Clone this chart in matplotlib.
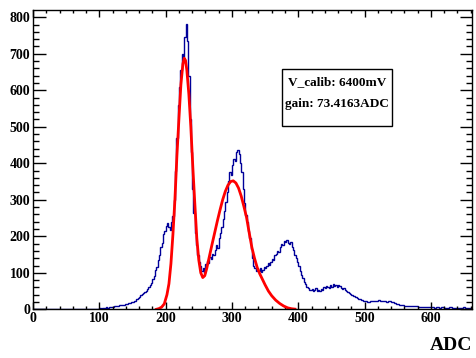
import numpy as np
import matplotlib
matplotlib.use("Agg")
import matplotlib.pyplot as plt

# histogram counts: 4 ADC bins below 100, 2 ADC bins 100-500, 4 ADC bins 500-660
counts_low = [
    0, 0, 0, 0, 0, 0, 0, 0, 0, 0,
    0, 0, 0, 0, 0, 1, 0, 1, 1, 2,
    1, 2, 2, 1, 2,
]
counts_mid = [
    3, 2, 4, 3, 4, 5, 4, 6, 5, 7, 6, 8, 9, 8, 10, 12, 11, 13, 12, 14,                     # 100-140
    14, 15, 17, 16, 20, 19, 24, 23, 29, 31, 35, 38, 41, 44, 47, 50, 55, 60, 66, 73,      # 140-180
    84, 92, 108, 116, 135, 148, 170, 182, 205, 215,
    228, 236, 225, 218, 240, 255, 300, 380, 470, 560,                                    # 180-220
    610, 655, 700, 690, 745, 782, 735, 640, 520, 430,
    330, 265, 210, 175, 150, 130, 118, 104, 112, 100,                                    # 220-260
    125, 132, 128, 142, 138, 152, 148, 162, 175, 168,
    195, 210, 225, 248, 270, 295, 320, 352, 375, 368,                                    # 260-300
    395, 412, 405, 430, 437, 425, 400, 375, 330, 290,
    258, 238, 215, 195, 165, 140, 120, 112, 104, 110,                                    # 300-340
    106, 112, 102, 108, 115, 112, 120, 126, 122, 130,
    138, 135, 148, 152, 160, 158, 172, 180, 176, 188,                                    # 340-380
    185, 190, 182, 178, 184, 170, 162, 150, 140, 130,
    118, 106, 95, 86, 76, 70, 62, 57, 54, 52,                                            # 380-420
    55, 50, 54, 57, 49, 53, 51, 56, 54, 60, 58, 63, 61, 59, 66, 62, 68, 64, 67, 61,      # 420-460
    66, 63, 59, 56, 58, 52, 49, 47, 44, 41, 40, 37, 36, 33, 31, 29, 28, 26, 25, 23,      # 460-500
]
counts_high = [
    22, 20, 22, 24, 22,
    25, 22, 24, 21, 22, 20, 18, 15, 13, 11,
    10, 9, 10, 8, 9, 7, 6, 7, 5, 6,
    5, 4, 6, 4, 5, 3, 4, 5, 3, 4,
    3, 4, 5, 3, 4,
]
counts = counts_low + counts_mid + counts_high
bin_edges = np.concatenate([np.arange(0, 100, 4), np.arange(100, 500, 2), np.arange(500, 664, 4)])

# fit curve
fit_x = [186, 190, 194, 198, 202, 205, 208, 211, 214, 217, 220, 223, 226, 228,
         230, 232, 235, 238, 241, 244, 247, 250, 253, 256, 259, 262, 266, 270,
         274, 278, 282, 286, 290, 294, 298, 302, 306, 310, 314, 318, 322, 326,
         330, 334, 338, 342, 346, 350, 355, 360, 366, 372, 378, 384, 390, 395]
fit_y = [0, 2, 6, 15, 40, 70, 125, 205, 300, 420, 520, 615, 672, 688,
         682, 655, 590, 500, 390, 290, 195, 135, 100, 87, 92, 112, 145, 178,
         210, 242, 272, 300, 323, 340, 350, 352, 346, 332, 310, 282, 252, 210,
         170, 140, 115, 97, 82, 67, 50, 37, 25, 16, 9, 4, 1.5, 0.5]

box_lines = ["V_calib: 6400mV", "gain: 73.4163ADC"]

plt.rcParams["font.family"] = "Liberation Serif"
plt.rcParams["font.weight"] = "bold"

fig = plt.figure(figsize=(4.76, 3.58), dpi=100)
ax = fig.add_axes([33 / 476, (358 - 309.3) / 358, (472 - 33) / 476, (309.3 - 10) / 358])

ax.stairs(counts, bin_edges, color="#000099", lw=1.0)
ax.plot(fit_x, fit_y, color="#ff0000", lw=2.0)

ax.set_xlim(0, 662)
ax.set_ylim(0, 820)
ax.set_xticks(np.arange(0, 700, 100))
ax.set_xticks(np.arange(0, 662, 20), minor=True)
ax.set_yticks(np.arange(0, 900, 100))
ax.set_yticks(np.arange(0, 820, 20), minor=True)

ax.tick_params(axis="both", which="both", direction="in", top=True, right=True,
               labelsize=10, pad=2, width=1)
ax.tick_params(axis="x", which="major", length=5)
ax.tick_params(axis="x", which="minor", length=2.5)
ax.tick_params(axis="y", which="major", length=9)
ax.tick_params(axis="y", which="minor", length=4.5)
for lab in ax.get_xticklabels() + ax.get_yticklabels():
    lab.set_fontweight("bold")
for s in ax.spines.values():
    s.set_linewidth(1)

fig.text(472 / 476, 1 - 345 / 358, "ADC", ha="right", va="center",
         fontsize=14, fontweight="bold")

# text box
box = plt.Rectangle((281.7 / 476, 1 - 126 / 358), (392 - 281.7) / 476, (126 - 69.3) / 358,
                    transform=fig.transFigure, facecolor="white", edgecolor="black", lw=1)
fig.add_artist(box)
fig.text(337 / 476, 1 - 82 / 358, box_lines[0], ha="center", va="center",
         fontsize=9.5, fontweight="bold")
fig.text(337 / 476, 1 - 104 / 358, box_lines[1], ha="center", va="center",
         fontsize=9.5, fontweight="bold")

plt.savefig("out.png", dpi=100)
plt.close()
